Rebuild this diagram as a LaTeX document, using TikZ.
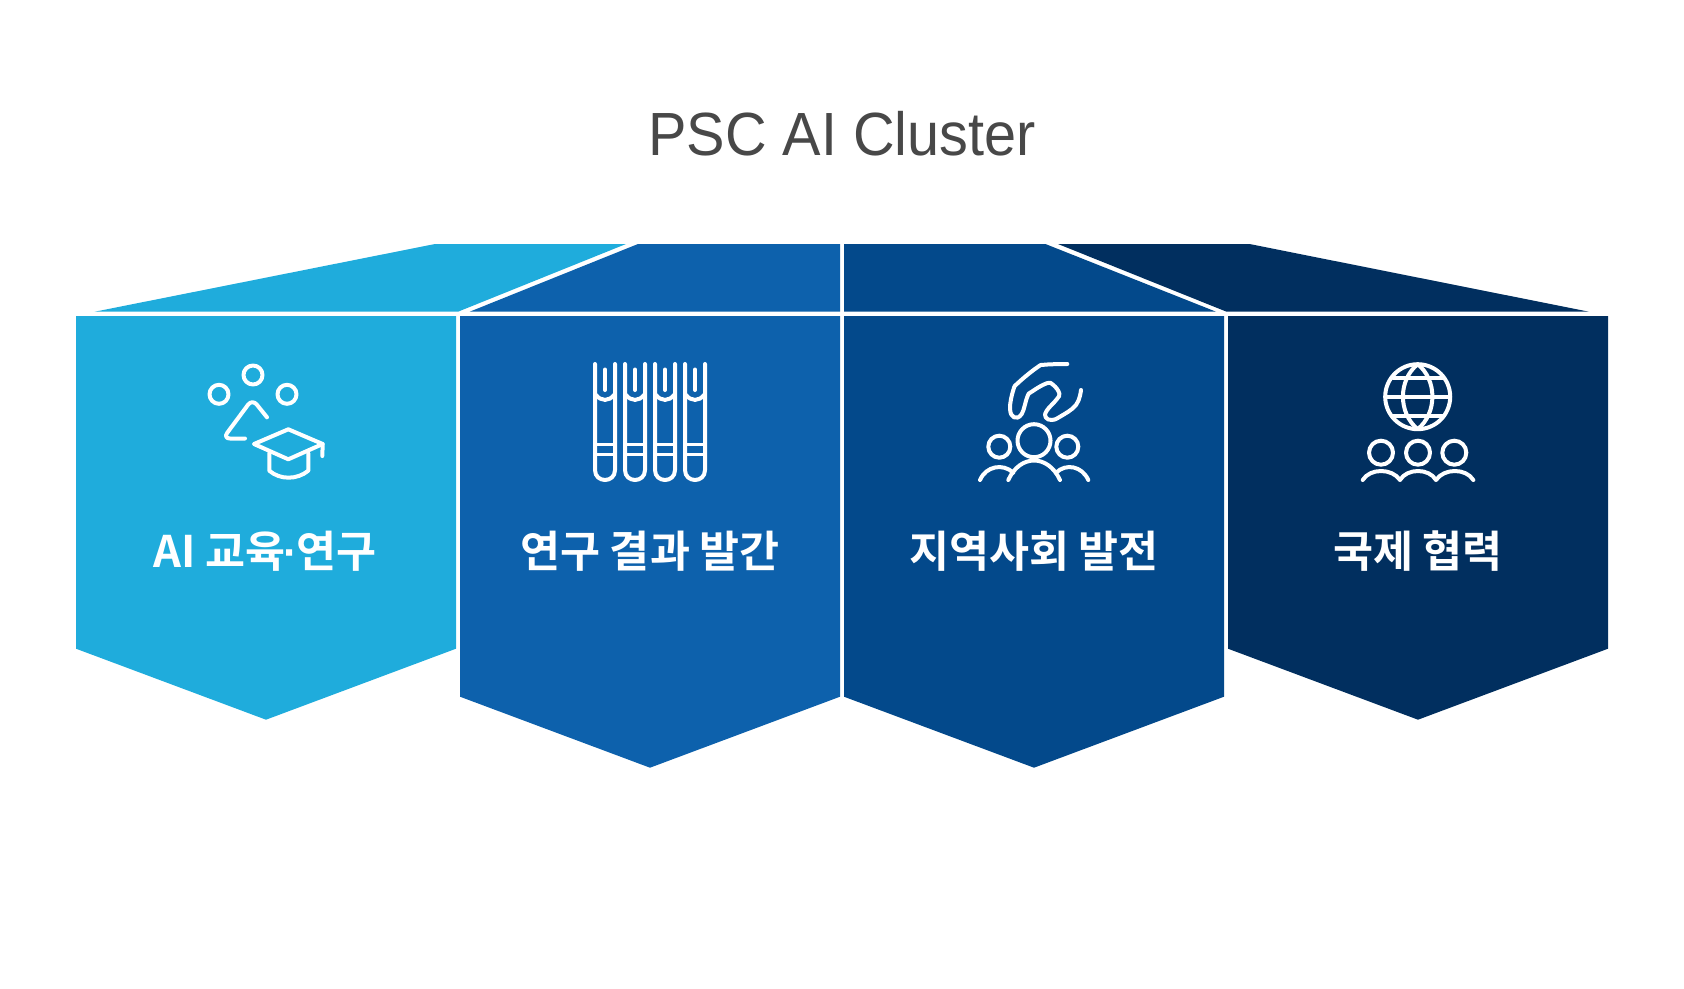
\documentclass[tikz,border=0pt]{standalone}
\usepackage{fontspec}
\setmainfont{Liberation Sans}
\newfontfamily\titlefont{Liberation Sans}[FakeStretch=0.945]
\newfontfamily\krfont{Noto Sans CJK KR}[BoldFont={Noto Sans CJK KR Bold}]
\definecolor{skyblue}{HTML}{1FACDC}
\definecolor{midblue}{HTML}{0D61AC}
\definecolor{deepblue}{HTML}{03498B}
\definecolor{navyblue}{HTML}{012F5F}
\definecolor{titlegray}{HTML}{484848}
% one tube, by its centre line
\newcommand{\testtube}[1]{
  \draw[icon] (#1-10,364) -- (#1-10,470) .. controls (#1-10,483.3) and (#1+10,483.3) .. (#1+10,470) -- (#1+10,364);
  \draw[icon] (#1-9,395) .. controls (#1-4,401.5) and (#1+4,401.5) .. (#1+9,395);
  \draw[icon] (#1,369.5) -- (#1,390);
  \draw[icon,line width=3pt,line cap=butt] (#1-10,444) -- (#1+10,444); \draw[icon,line width=3pt,line cap=butt] (#1-10,454) -- (#1+10,454);
}
\begin{document}
\begin{tikzpicture}[x=1pt,y=-1pt,
    icon/.style={draw=white,line width=4pt,line cap=round,line join=round},
    panellabel/.style={text=white,font=\krfont\bfseries\fontsize{43.5}{50}\selectfont}]
  \useasboundingbox (0,0) rectangle (1684,988);

  \node[text=titlegray,font=\titlefont\fontsize{61}{70}\selectfont] (title) at (842,134) {PSC AI Cluster};

  % top faces
  \fill[skyblue] (94.7,311.7) -- (435,244) -- (626,244) -- (458,311.7) -- cycle;
  \fill[midblue] (469.7,311.7) -- (638,244) -- (840,244) -- (840,311.7) -- cycle;
  \fill[deepblue] (844,311.7) -- (844,244) -- (1045.4,244) -- (1216,311.7) -- cycle;
  \fill[navyblue] (1226.5,311.7) -- (1058,244) -- (1249.5,244) -- (1589,311.7) -- cycle;

  % front faces
  \fill[skyblue] (76,316) -- (456,316) -- (456,648.7) -- (266,719.7) -- (76,648.7) -- cycle;
  \fill[midblue] (460,316) -- (840,316) -- (840,696.7) -- (650,767.7) -- (460,696.7) -- cycle;
  \fill[deepblue] (844,316) -- (1224,316) -- (1224,696.7) -- (1034,767.7) -- (844,696.7) -- cycle;
  \fill[navyblue] (1228,316) -- (1608,316) -- (1608,648.7) -- (1418,719.7) -- (1228,648.7) -- cycle;

  \node[panellabel] (edu) at (265,551) {AI 교육\kern-2pt{\rmfamily\bfseries ·}\kern-2pt연구};
  \node[panellabel] (pub) at (650,551) {연구 결과 발간};
  \node[panellabel] (local) at (1034,551) {지역사회 발전};
  \node[panellabel] (global) at (1418,551) {국제 협력};

  % cap and triangle
  \draw[icon] (219,394.3) circle [radius=9.5]; \draw[icon] (253,375) circle [radius=9.5];
  \draw[icon] (287,394.3) circle [radius=9.5];
  \draw[icon,rounded corners=7pt] (267,417.3) -- (252.3,399) -- (223,438.5) -- (245,438.5);
  \draw[icon] (254,444) -- (288.3,429.3) -- (322.7,444) -- (288.3,459.3) -- cycle;
  \draw[icon] (322.7,444) -- (322.3,456);
  \draw[icon] (269.3,453.3) -- (269.3,470.7) .. controls (280,480) and (297,480) .. (308.3,470.7) -- (308.3,453.3);

  % tubes
  \testtube{605} \testtube{635} \testtube{665} \testtube{695}

  % hand over people
  \draw[icon] plot[smooth,tension=.7] coordinates {(1067.3,364) (1045,364.7) (1037.3,367.3) (1018.3,382.7) (1013.3,390) (1010,408.3) (1014,417.3) (1021.7,414) (1027.3,396.7) (1031.7,391.7) (1046.7,383.3) (1053.3,385) (1059.3,393.3) (1056.7,399.3) (1046.7,410.7) (1045.7,417.3) (1051.7,420) (1060,416.7) (1076,405) (1081,390)};
  \draw[icon] (1034,440.7) circle [radius=16.5]; \draw[icon] (999.3,446.7) circle [radius=11];
  \draw[icon] (1067.3,446.7) circle [radius=11];
  \draw[icon] (1008.3,480) .. controls (1020,454) and (1048,454) .. (1060,480);
  \draw[icon] (980,480) .. controls (986,466) and (1003,463) .. (1013.3,472.7);
  \draw[icon] (1056,472.7) .. controls (1066,463) and (1082,466) .. (1088.3,480);

  % globe over people
  \draw[icon] (1417.7,396.7) circle [radius=32.5];
  \draw[icon] (1417.7,364.2) .. controls (1437.3,380) and (1437.3,413) .. (1417.7,429.2) .. controls (1398,413) and (1398,380) .. (1417.7,364.2);
  \draw[icon] (1385.2,396.7) -- (1450.2,396.7);
  \draw[icon] (1393,377.7) -- (1442.4,377.7); \draw[icon] (1393,416) -- (1442.4,416);
  \draw[icon] (1381,452.7) circle [radius=12]; \draw[icon] (1418,452.7) circle [radius=12];
  \draw[icon] (1454.3,452.7) circle [radius=12];
  \draw[icon] (1362.7,480) .. controls (1370,468) and (1392,468) .. (1400,480) .. controls (1407,468) and (1429,468) .. (1436,480) .. controls (1444,468) and (1466,468) .. (1473.3,480);
\end{tikzpicture}
\end{document}
